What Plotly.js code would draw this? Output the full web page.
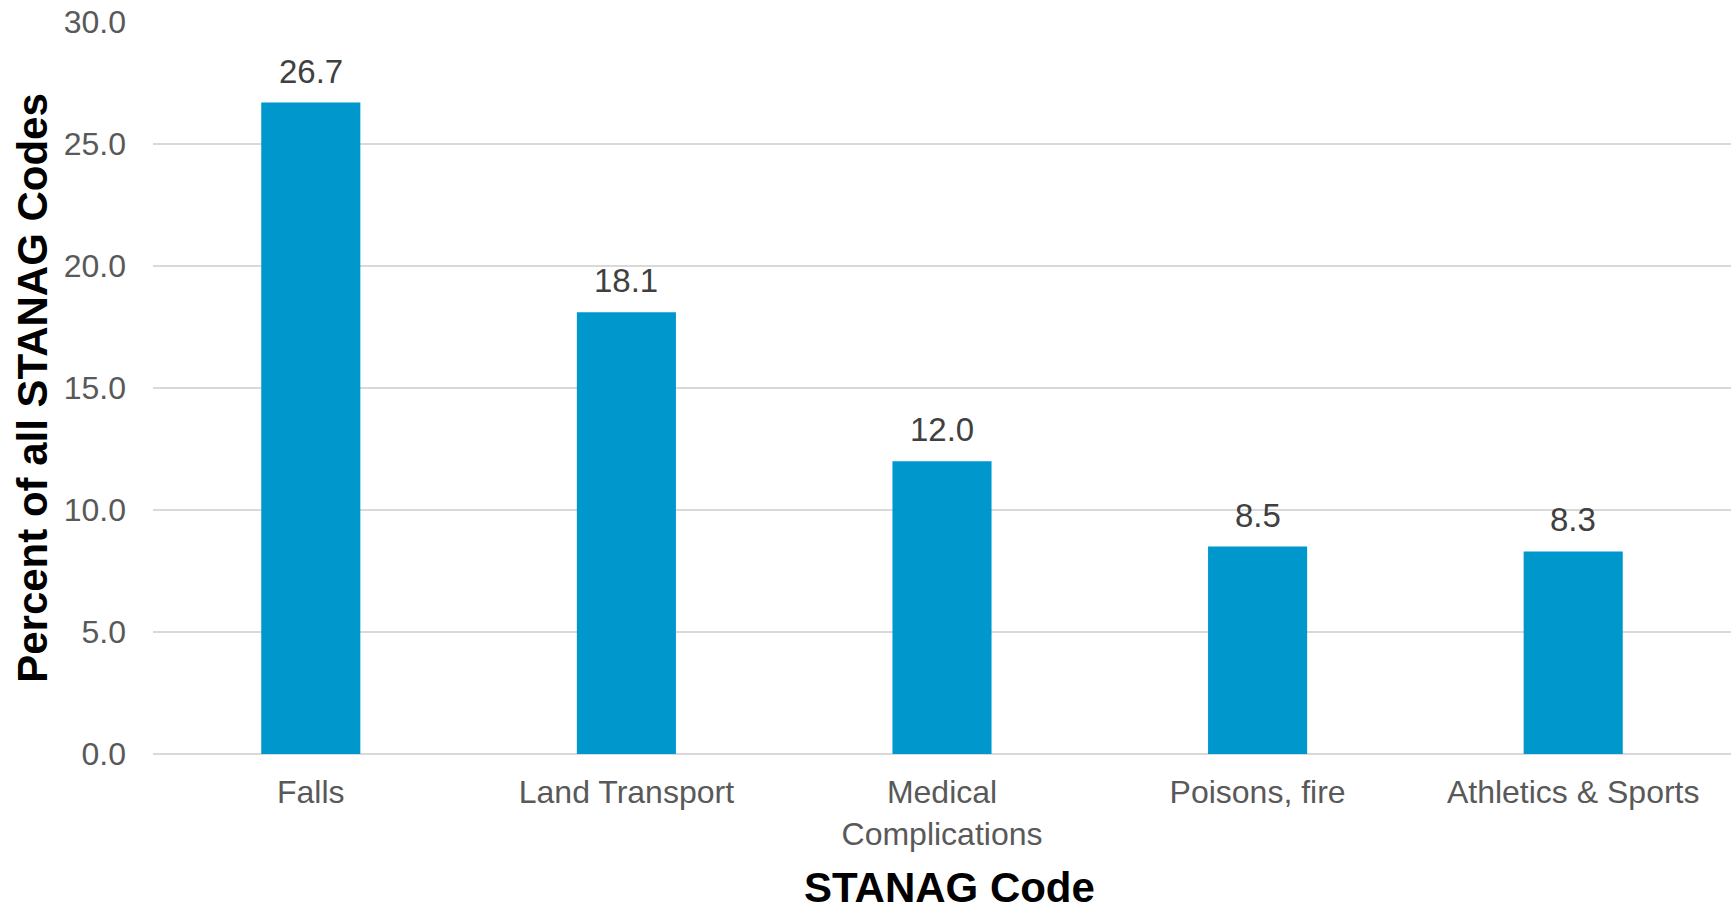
<!DOCTYPE html>
<html>
<head>
<meta charset="utf-8">
<script src="https://cdn.plot.ly/plotly-3.0.1.min.js"></script>
<style>html,body{margin:0;padding:0;background:#fff;}#chart{width:1731px;height:912px;}</style>
</head>
<body>
<div id="chart"></div>
<script>
const categories = ["Falls", "Land Transport", "Medical<br>Complications", "Poisons, fire", "Athletics & Sports"];
const values = [26.7, 18.1, 12.0, 8.5, 8.3];
const yTicks = [0, 5, 10, 15, 20, 25, 30];
const xTitle = "STANAG Code";
const yTitle = "Percent of all STANAG Codes";

const FONT = "Liberation Sans, Arial, sans-serif";

const trace = {
  type: "bar",
  x: categories,
  y: values,
  marker: {color: "#0098CC", line: {width: 0}},
  hoverinfo: "skip"
};

const annotations = categories.map((c, i) => ({
  x: c, y: values[i], xref: "x", yref: "y",
  text: values[i].toFixed(1),
  showarrow: false, yanchor: "bottom", yshift: 11,
  font: {family: FONT, size: 33, color: "#404040"}
}));

annotations.push({
  x: 0.5, y: 0, xref: "x domain", yref: "y domain",
  xanchor: "center", yanchor: "middle", xshift: 7, yshift: -133,
  text: "<b>" + xTitle + "</b>", showarrow: false, borderpad: 0,
  font: {family: FONT, size: 42, color: "#000"}
});

const layout = {
  width: 1731, height: 912,
  margin: {l: 153, r: 0, t: 22, b: 158, pad: 0},
  paper_bgcolor: "#fff", plot_bgcolor: "#fff",
  bargap: 0.686,
  showlegend: false,
  xaxis: {
    type: "category",
    tickfont: {family: FONT, size: 32, color: "#595959"},
    showgrid: false, zeroline: false, showline: false,
    ticks: "", ticklabelstandoff: 16,
    automargin: false
  },
  yaxis: {
    range: [0, 30],
    tickvals: yTicks,
    ticktext: yTicks.map(v => v.toFixed(1)),
    tickfont: {family: FONT, size: 32, color: "#595959"},
    showgrid: true, gridcolor: "#D9D9D9", gridwidth: 2,
    zeroline: true, zerolinecolor: "#D9D9D9", zerolinewidth: 2,
    showline: false, ticks: "", ticklabelstandoff: 26,
    automargin: false,
    title: {text: yTitle, font: {family: FONT, size: 42, color: "#000", weight: "bold"}, standoff: 3}
  },
  annotations: annotations
};

Plotly.newPlot("chart", [trace], layout, {staticPlot: true, displayModeBar: false});
</script>
</body>
</html>
